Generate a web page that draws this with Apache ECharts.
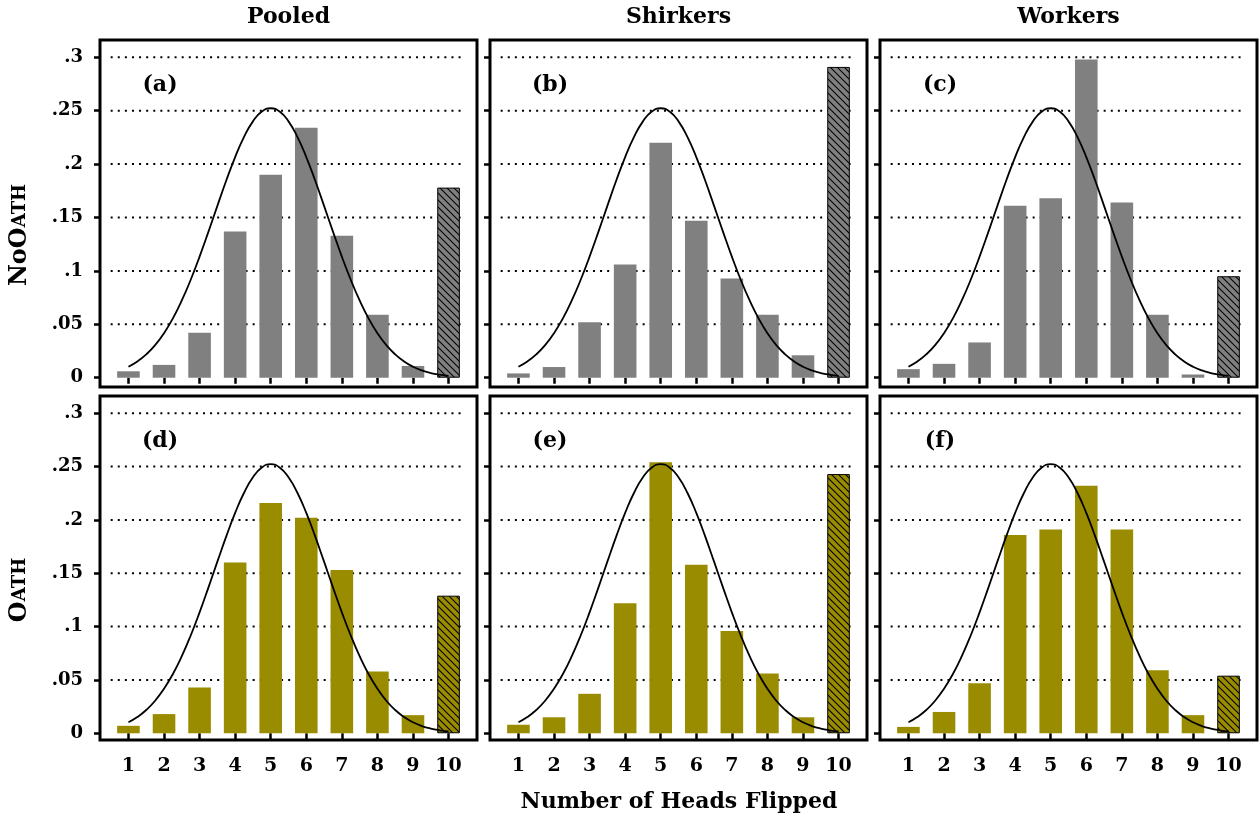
<!DOCTYPE html>
<html>
<head>
<meta charset="utf-8">
<script src="https://cdn.jsdelivr.net/npm/echarts@6/dist/echarts.min.js"></script>
<style>
html,body{margin:0;padding:0;background:#fff;}
#chart{width:1260px;height:818px;}
</style>
</head>
<body>
<div id="chart"></div>
<script>
// ---------- DATA ----------
const heads = [1, 2, 3, 4, 5, 6, 7, 8, 9, 10];
const pooledNoOath   = [0.006, 0.012, 0.042, 0.137, 0.190, 0.234, 0.133, 0.059, 0.011, 0.178];
const shirkersNoOath = [0.004, 0.010, 0.052, 0.106, 0.220, 0.147, 0.093, 0.059, 0.021, 0.291];
const workersNoOath  = [0.008, 0.013, 0.033, 0.161, 0.168, 0.298, 0.164, 0.059, 0.003, 0.095];
const pooledOath     = [0.007, 0.018, 0.043, 0.160, 0.216, 0.202, 0.153, 0.058, 0.017, 0.129];
const shirkersOath   = [0.008, 0.015, 0.037, 0.122, 0.254, 0.158, 0.096, 0.056, 0.015, 0.243];
const workersOath    = [0.006, 0.020, 0.047, 0.186, 0.191, 0.232, 0.191, 0.059, 0.017, 0.054];
// reference density curve
const curveX = [1, 1.25, 1.5, 1.75, 2, 2.25, 2.5, 2.75, 3, 3.25, 3.5, 3.75, 4, 4.25, 4.5, 4.75, 5,
                5.25, 5.5, 5.75, 6, 6.25, 6.5, 6.75, 7, 7.25, 7.5, 7.75, 8, 8.25, 8.5, 8.75, 9, 9.25, 9.5, 9.75, 10];
const curveY = [0.0103, 0.0152, 0.0218, 0.0305, 0.0417, 0.0556, 0.0723, 0.0917, 0.1134, 0.1368, 0.1609, 0.1846, 0.2066, 0.2255, 0.2400, 0.2492, 0.2523,
                0.2492, 0.2400, 0.2255, 0.2066, 0.1846, 0.1609, 0.1368, 0.1134, 0.0917, 0.0723, 0.0556, 0.0417, 0.0305, 0.0218, 0.0152, 0.0103, 0.0068, 0.0044, 0.0028, 0.0017];
const yTickValues = [0, 0.05, 0.1, 0.15, 0.2, 0.25, 0.3];
const yTickLabels = ['0', '.05', '.1', '.15', '.2', '.25', '.3'];
const xTickValues = [1, 2, 3, 4, 5, 6, 7, 8, 9, 10];
const colTitles = ['Pooled', 'Shirkers', 'Workers'];
const panelLetters = ['(a)', '(b)', '(c)', '(d)', '(e)', '(f)'];
const xTitle = 'Number of Heads Flipped';

// ---------- LAYOUT / STYLE ----------
const panelData = [pooledNoOath, shirkersNoOath, workersNoOath, pooledOath, shirkersOath, workersOath];
const colLeft = [100, 490, 880];
const colWidth = 377;
const rowTop = [40, 396];
const rowHeight = [347, 344];
const rowYMin = [-0.0087, -0.0063];
const rowYMax = [0.3162, 0.3162];
const xMin = 0.2, xMax = 10.8;
const gridFrom = 0.5, gridTo = 10.4;
const barColors = ['#808080', '#998c00'];
const FONT = 'DejaVu Serif';

function hatch(base) {
  const s = 7;
  const c = document.createElement('canvas');
  c.width = s; c.height = s;
  const g = c.getContext('2d');
  g.fillStyle = base; g.fillRect(0, 0, s, s);
  g.strokeStyle = '#000'; g.lineWidth = 1.1;
  for (const k of [-s, 0, s]) {
    g.beginPath(); g.moveTo(-1, -1 + k); g.lineTo(s + 1, s + 1 + k); g.stroke();
  }
  return c;
}
const patterns = barColors.map(hatch);

const grids = [], xAxes = [], yAxes = [], series = [], graphics = [];
for (let p = 0; p < 6; p++) {
  const r = Math.floor(p / 3), c = p % 3;
  grids.push({
    left: colLeft[c], top: rowTop[r], width: colWidth, height: rowHeight[r],
    show: true, borderColor: '#000', borderWidth: 3, backgroundColor: 'transparent'
  });
  xAxes.push({
    gridIndex: p, type: 'value', min: xMin, max: xMax,
    axisLine: {show: false},
    splitLine: {show: false},
    axisTick: {show: true, customValues: xTickValues, length: 6, lineStyle: {color: '#000', width: 2.5}},
    axisLabel: {show: r === 1, customValues: xTickValues, margin: 17,
      fontFamily: FONT, fontWeight: 'bold', fontSize: 19, color: '#000'}
  });
  yAxes.push({
    gridIndex: p, type: 'value', min: rowYMin[r], max: rowYMax[r],
    axisLine: {show: false},
    splitLine: {show: false},
    axisTick: {show: true, customValues: yTickValues, length: 6, lineStyle: {color: '#000', width: 2.5}},
    axisLabel: {show: c === 0, customValues: yTickValues, margin: 17,
      fontFamily: FONT, fontWeight: 'bold', fontSize: 18, color: '#000',
      formatter: v => {
        const i = yTickValues.findIndex(t => Math.abs(t - v) < 1e-6);
        return i >= 0 ? yTickLabels[i] : '';
      }}
  });
  // dotted reference lines
  yTickValues.filter(v => v > 0).forEach(v => {
    series.push({
      type: 'line', xAxisIndex: p, yAxisIndex: p, z: 1, silent: true,
      showSymbol: false, symbol: 'none',
      data: [[gridFrom, v], [gridTo, v]],
      lineStyle: {color: '#000', width: 2, type: [2, 5.1], cap: 'butt'}
    });
  });
  // bars
  const vals = panelData[p];
  series.push({
    type: 'bar', xAxisIndex: p, yAxisIndex: p, z: 2, barWidth: 22.6,
    itemStyle: {color: barColors[r]},
    data: vals.map((v, i) => i === vals.length - 1
      ? {value: [heads[i], v], itemStyle: {color: {image: patterns[r], repeat: 'repeat'}, borderColor: '#000', borderWidth: 1}}
      : {value: [heads[i], v]})
  });
  // curve
  series.push({
    type: 'line', xAxisIndex: p, yAxisIndex: p, z: 3, silent: true,
    showSymbol: false, symbol: 'none', smooth: true,
    data: curveX.map((x, i) => [x, curveY[i]]),
    lineStyle: {color: '#000', width: 1.8}
  });
  // panel letter
  graphics.push({
    type: 'text', x: colLeft[c] + 60, y: rowTop[r] + 45, z: 10,
    style: {text: panelLetters[p], fontFamily: FONT, fontWeight: 'bold', fontSize: 22, fill: '#000',
      align: 'center', verticalAlign: 'middle'}
  });
}

// column titles
colTitles.forEach((t, c) => {
  graphics.push({
    type: 'text', x: colLeft[c] + colWidth / 2, y: 17, z: 10,
    style: {text: t, fontFamily: FONT, fontWeight: 'bold', fontSize: 22, fill: '#000', align: 'center', verticalAlign: 'middle'}
  });
});
// x title
graphics.push({
  type: 'text', x: 679, y: 802, z: 10,
  style: {text: xTitle, fontFamily: FONT, fontWeight: 'bold', fontSize: 22, fill: '#000', align: 'center', verticalAlign: 'middle'}
});
// row labels (small caps)
const rowLabelRich = {
  a: {fontFamily: FONT, fontWeight: 'bold', fontSize: 24, fill: '#000'},
  b: {fontFamily: FONT, fontWeight: 'bold', fontSize: 18, fill: '#000'}
};
[['{a|NoO}{b|ATH}', 235], ['{a|O}{b|ATH}', 590]].forEach(([t, y]) => {
  graphics.push({
    type: 'text', x: 20, y: y, rotation: Math.PI / 2, z: 10,
    style: {text: t, rich: rowLabelRich, align: 'center', verticalAlign: 'middle'}
  });
});

const chart = echarts.init(document.getElementById('chart'), null, {renderer: 'canvas'});
chart.setOption({
  animation: false,
  backgroundColor: '#fff',
  grid: grids, xAxis: xAxes, yAxis: yAxes, series: series, graphic: graphics
});
</script>
</body>
</html>
